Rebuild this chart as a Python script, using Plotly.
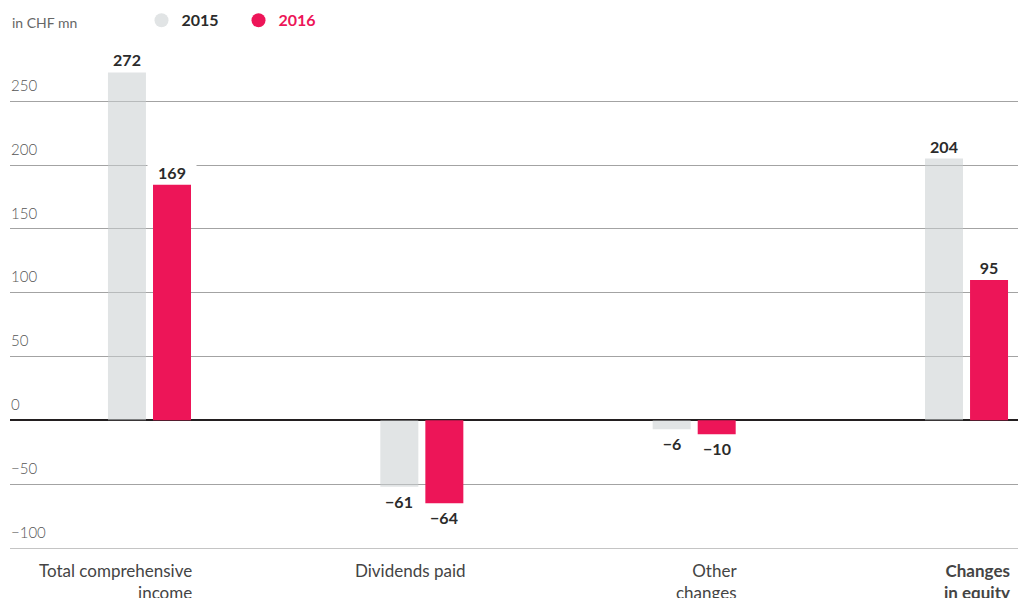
import plotly.graph_objects as go

categories = ["Total comprehensive income", "Dividends paid", "Other changes", "Changes in equity"]
category_labels = ["Total comprehensive<br>income", "Dividends paid", "Other<br>changes", "<b>Changes<br>in equity</b>"]
values_2015 = [272.5, -52, -7, 205]
values_2016 = [184.5, -65, -11, 110]
labels_2015 = ["272", "\u221261", "\u22126", "204"]
labels_2016 = ["169", "\u221264", "\u221210", "95"]
y_ticks = [-100, -50, 0, 50, 100, 150, 200, 250]

GRAY = "#e1e4e5"
GRAY_BAR = "rgba(200,206,208,0.55)"
PINK = "#ed1558"
FONT = "Lato"

fig = go.Figure()
fig.add_trace(go.Bar(x=categories, y=values_2015, marker=dict(color=GRAY_BAR, line=dict(width=0)),
                     width=0.1395, offset=-0.1524, showlegend=False, name="2015"))
fig.add_trace(go.Bar(x=categories, y=values_2016, marker=dict(color=PINK, line=dict(width=0)),
                     width=0.1395, offset=0.0129, showlegend=False, name="2016"))

# legend entries
fig.add_trace(go.Scatter(x=[None], y=[None], mode="markers", name="<b>2015</b>",
                         marker=dict(symbol="circle", size=14, color=GRAY)))
fig.add_trace(go.Scatter(x=[None], y=[None], mode="markers",
                         name="<b><span style='color:%s'>2016</span></b>" % PINK,
                         marker=dict(symbol="circle", size=14, color=PINK)))

annotations = []
for vals, labs, shift in ((values_2015, labels_2015, -22.5), (values_2016, labels_2016, 22.5)):
    for c, v, t in zip(categories, vals, labs):
        annotations.append(dict(
            x=c, y=v, xref="x", yref="y", text="<b>%s</b>" % t, showarrow=False,
            xshift=shift, yanchor="bottom" if v >= 0 else "top",
            yshift=1 if v >= 0 else -3, bgcolor="white", borderpad=1, width=46,
            font=dict(family=FONT, size=16, color="#2b2b2b")))

for c, t in zip(categories, category_labels):
    annotations.append(dict(
        x=c, y=-100, xref="x", yref="y", text=t, showarrow=False, xanchor="right",
        align="right", yanchor="top", xshift=45, yshift=-10,
        font=dict(family=FONT, size=17, color="#444444")))

annotations.append(dict(x=0, xref="paper", y=1.029, yref="paper", text="in CHF mn", showarrow=False,
                        xanchor="left", yanchor="middle",
                        font=dict(family=FONT, size=14, color="#666666")))

fig.update_layout(
    width=1018, height=598,
    margin=dict(l=10, r=0, t=35, b=50),
    plot_bgcolor="white", paper_bgcolor="white",
    barmode="overlay",
    font=dict(family=FONT),
    showlegend=True,
    legend=dict(orientation="h", xref="container", yref="container", x=0.139, y=0.966,
                xanchor="left", yanchor="middle", itemwidth=30, entrywidth=52, entrywidthmode="pixels",
                font=dict(family=FONT, size=16, color="#2b2b2b"), bgcolor="rgba(0,0,0,0)",
                itemclick=False),
    annotations=annotations,
    xaxis=dict(range=[-0.5122, 3.189], showticklabels=False, showgrid=False, zeroline=False,
               showline=True, linecolor="#c4c4c4", linewidth=1, ticks="", fixedrange=True),
    yaxis=dict(range=[-100, 300], tickvals=y_ticks, ticklabelposition="inside top",
               ticklabelshift=-5, ticklabelstandoff=-2,
               showgrid=True, gridcolor="#a3a3a3", gridwidth=1,
               zeroline=True, zerolinecolor="#231f20", zerolinewidth=2,
               showline=False, ticks="",
               tickfont=dict(family=FONT, size=15, color="#555555", weight=300),
               fixedrange=True),
)

fig.write_html("out.html")
